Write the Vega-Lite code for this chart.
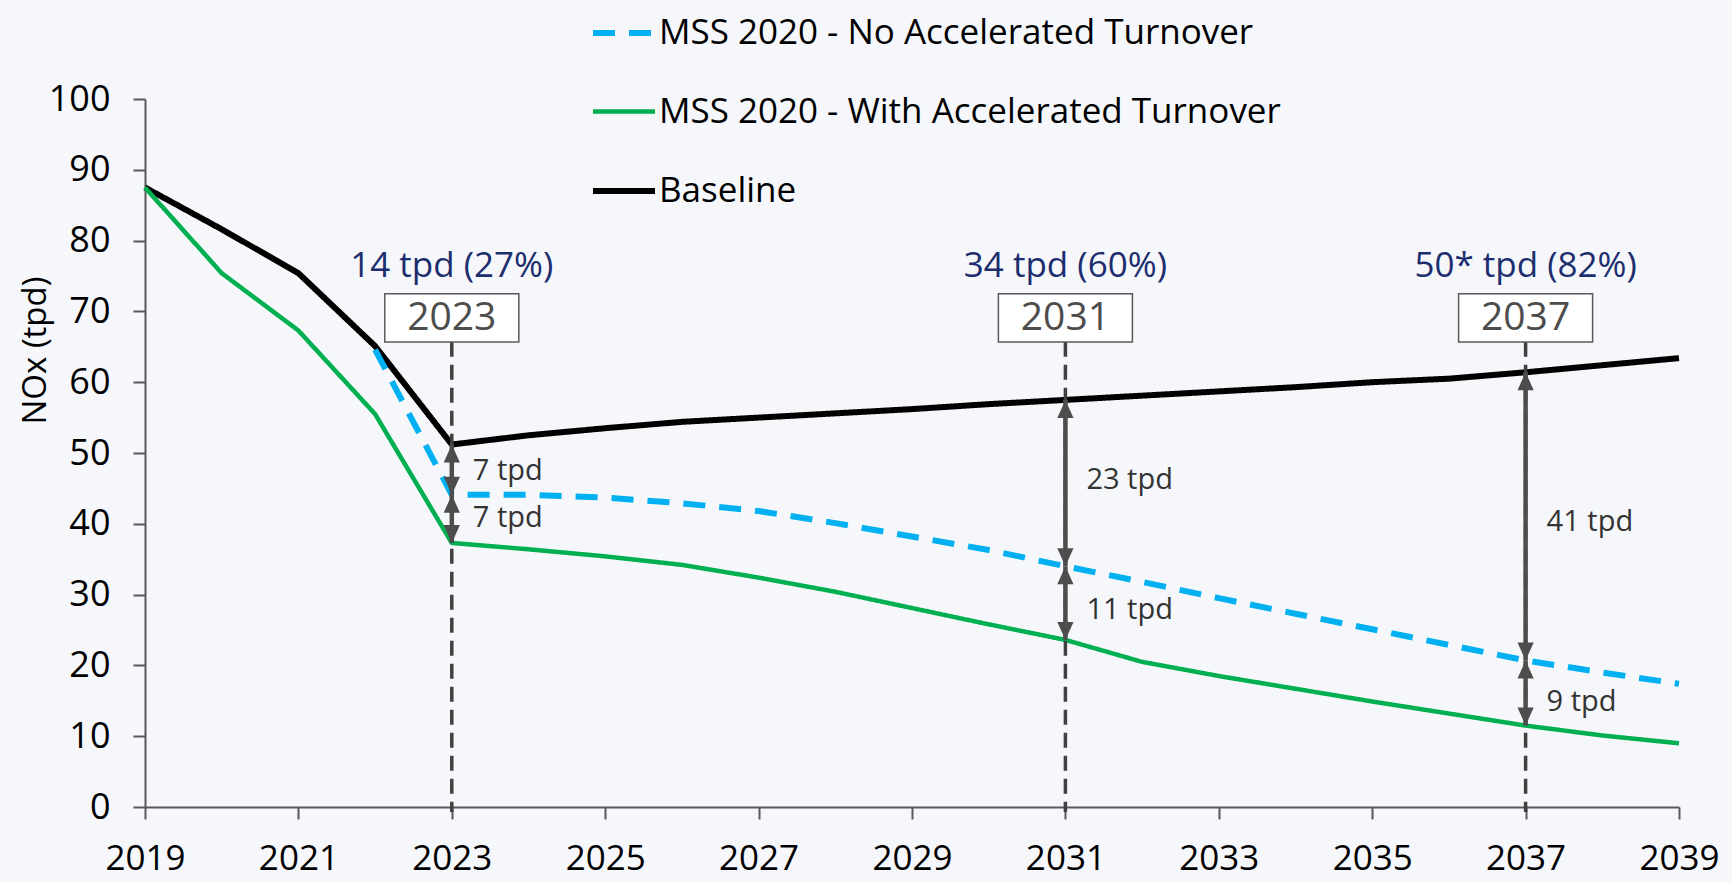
{
  "$schema": "https://vega.github.io/schema/vega-lite/v6.json",
  "width": 1534,
  "height": 708,
  "autosize": "none",
  "padding": {"left": 145, "top": 99, "right": 53, "bottom": 75},
  "background": "#f5f7fb",
  "config": {
    "view": {"stroke": null},
    "font": "Open Sans",
    "axis": {
      "grid": false,
      "domainColor": "#595959",
      "domainWidth": 2,
      "tickColor": "#595959",
      "tickWidth": 2,
      "tickSize": 12,
      "labelFont": "Open Sans",
      "labelFontSize": 35,
      "labelColor": "#000000",
      "labelFlush": false
    },
    "legend": {
      "labelFont": "Open Sans",
      "labelFontSize": 35,
      "labelColor": "#000000",
      "labelLimit": 0
    }
  },
  "datasets": {
    "series": [
      {"year": 2019, "series": "Baseline", "value": 87.5},
      {"year": 2020, "series": "Baseline", "value": 81.6},
      {"year": 2021, "series": "Baseline", "value": 75.4},
      {"year": 2022, "series": "Baseline", "value": 65.1},
      {"year": 2023, "series": "Baseline", "value": 51.2},
      {"year": 2024, "series": "Baseline", "value": 52.5},
      {"year": 2025, "series": "Baseline", "value": 53.5},
      {"year": 2026, "series": "Baseline", "value": 54.4},
      {"year": 2027, "series": "Baseline", "value": 55.0},
      {"year": 2028, "series": "Baseline", "value": 55.6},
      {"year": 2029, "series": "Baseline", "value": 56.2},
      {"year": 2030, "series": "Baseline", "value": 56.9},
      {"year": 2031, "series": "Baseline", "value": 57.5},
      {"year": 2032, "series": "Baseline", "value": 58.1},
      {"year": 2033, "series": "Baseline", "value": 58.7},
      {"year": 2034, "series": "Baseline", "value": 59.3},
      {"year": 2035, "series": "Baseline", "value": 60.0},
      {"year": 2036, "series": "Baseline", "value": 60.5},
      {"year": 2037, "series": "Baseline", "value": 61.4},
      {"year": 2038, "series": "Baseline", "value": 62.4},
      {"year": 2039, "series": "Baseline", "value": 63.4},
      {"year": 2019, "series": "MSS 2020 - With Accelerated Turnover", "value": 87.5},
      {"year": 2020, "series": "MSS 2020 - With Accelerated Turnover", "value": 75.4},
      {"year": 2021, "series": "MSS 2020 - With Accelerated Turnover", "value": 67.3},
      {"year": 2022, "series": "MSS 2020 - With Accelerated Turnover", "value": 55.5},
      {"year": 2023, "series": "MSS 2020 - With Accelerated Turnover", "value": 37.3},
      {"year": 2024, "series": "MSS 2020 - With Accelerated Turnover", "value": 36.4},
      {"year": 2025, "series": "MSS 2020 - With Accelerated Turnover", "value": 35.4},
      {"year": 2026, "series": "MSS 2020 - With Accelerated Turnover", "value": 34.2},
      {"year": 2027, "series": "MSS 2020 - With Accelerated Turnover", "value": 32.4},
      {"year": 2028, "series": "MSS 2020 - With Accelerated Turnover", "value": 30.4},
      {"year": 2029, "series": "MSS 2020 - With Accelerated Turnover", "value": 28.1},
      {"year": 2030, "series": "MSS 2020 - With Accelerated Turnover", "value": 25.8},
      {"year": 2031, "series": "MSS 2020 - With Accelerated Turnover", "value": 23.6},
      {"year": 2032, "series": "MSS 2020 - With Accelerated Turnover", "value": 20.5},
      {"year": 2033, "series": "MSS 2020 - With Accelerated Turnover", "value": 18.5},
      {"year": 2034, "series": "MSS 2020 - With Accelerated Turnover", "value": 16.7},
      {"year": 2035, "series": "MSS 2020 - With Accelerated Turnover", "value": 14.9},
      {"year": 2036, "series": "MSS 2020 - With Accelerated Turnover", "value": 13.2},
      {"year": 2037, "series": "MSS 2020 - With Accelerated Turnover", "value": 11.5},
      {"year": 2038, "series": "MSS 2020 - With Accelerated Turnover", "value": 10.1},
      {"year": 2039, "series": "MSS 2020 - With Accelerated Turnover", "value": 9.0},
      {"year": 2022, "series": "MSS 2020 - No Accelerated Turnover", "value": 64.6},
      {"year": 2023, "series": "MSS 2020 - No Accelerated Turnover", "value": 44.1},
      {"year": 2024, "series": "MSS 2020 - No Accelerated Turnover", "value": 44.1},
      {"year": 2025, "series": "MSS 2020 - No Accelerated Turnover", "value": 43.7},
      {"year": 2026, "series": "MSS 2020 - No Accelerated Turnover", "value": 42.9},
      {"year": 2027, "series": "MSS 2020 - No Accelerated Turnover", "value": 41.8},
      {"year": 2028, "series": "MSS 2020 - No Accelerated Turnover", "value": 40.1},
      {"year": 2029, "series": "MSS 2020 - No Accelerated Turnover", "value": 38.2},
      {"year": 2030, "series": "MSS 2020 - No Accelerated Turnover", "value": 36.3},
      {"year": 2031, "series": "MSS 2020 - No Accelerated Turnover", "value": 34.0},
      {"year": 2032, "series": "MSS 2020 - No Accelerated Turnover", "value": 31.8},
      {"year": 2033, "series": "MSS 2020 - No Accelerated Turnover", "value": 29.5},
      {"year": 2034, "series": "MSS 2020 - No Accelerated Turnover", "value": 27.3},
      {"year": 2035, "series": "MSS 2020 - No Accelerated Turnover", "value": 25.1},
      {"year": 2036, "series": "MSS 2020 - No Accelerated Turnover", "value": 22.9},
      {"year": 2037, "series": "MSS 2020 - No Accelerated Turnover", "value": 20.7},
      {"year": 2038, "series": "MSS 2020 - No Accelerated Turnover", "value": 19.0},
      {"year": 2039, "series": "MSS 2020 - No Accelerated Turnover", "value": 17.4}
    ],
    "marks": [
      {"year": 2023, "box": "2023", "label": "14 tpd (27%)"},
      {"year": 2031, "box": "2031", "label": "34 tpd (60%)"},
      {"year": 2037, "box": "2037", "label": "50* tpd (82%)"}
    ],
    "arrows": [
      {"year": 2023, "top": 51.2, "bottom": 44.1, "label": "7 tpd", "ly": 47.5},
      {"year": 2023, "top": 44.1, "bottom": 37.3, "label": "7 tpd", "ly": 40.8},
      {"year": 2031, "top": 57.5, "bottom": 34.0, "label": "23 tpd", "ly": 46.2},
      {"year": 2031, "top": 34.0, "bottom": 23.6, "label": "11 tpd", "ly": 27.8},
      {"year": 2037, "top": 61.4, "bottom": 20.7, "label": "41 tpd", "ly": 40.2},
      {"year": 2037, "top": 20.7, "bottom": 11.5, "label": "9 tpd", "ly": 14.8}
    ]
  },
  "layer": [
    {
      "data": {"name": "series"},
      "mark": {"type": "line", "strokeCap": "butt", "strokeJoin": "round"},
      "encoding": {
        "x": {
          "field": "year", "type": "quantitative",
          "scale": {"domain": [2019, 2039], "nice": false, "zero": false},
          "axis": {"values": [2019, 2021, 2023, 2025, 2027, 2029, 2031, 2033, 2035, 2037, 2039], "format": "d", "title": null, "labelPadding": 22, "labelOverlap": false}
        },
        "y": {
          "field": "value", "type": "quantitative",
          "scale": {"domain": [0, 100], "nice": false},
          "axis": {
            "values": [0, 10, 20, 30, 40, 50, 60, 70, 80, 90, 100],
            "labelFontSize": 36, "labelPadding": 23,
            "title": "NOx (tpd)", "titleFont": "Open Sans", "titleFontSize": 33, "titleFontWeight": "normal",
            "titleColor": "#000000", "titleAngle": 270, "titleX": -110, "titleY": 251,
            "titleAlign": "center", "titleBaseline": "middle"
          }
        },
        "color": {
          "field": "series", "type": "nominal",
          "scale": {
            "domain": ["MSS 2020 - No Accelerated Turnover", "MSS 2020 - With Accelerated Turnover", "Baseline"],
            "range": ["#00b0f0", "#00b050", "#000000"]
          },
          "legend": {
            "title": null, "orient": "none", "legendX": 445, "legendY": -100,
            "symbolType": "stroke", "symbolSize": 3844, "rowPadding": 27, "padding": 0, "labelOffset": 1,
            "direction": "vertical", "labelLimit": 0
          }
        },
        "strokeDash": {
          "field": "series", "type": "nominal",
          "scale": {
            "domain": ["MSS 2020 - No Accelerated Turnover", "MSS 2020 - With Accelerated Turnover", "Baseline"],
            "range": [[22, 14], [1, 0], [1, 0]]
          }
        },
        "strokeWidth": {
          "field": "series", "type": "nominal",
          "scale": {
            "type": "ordinal",
            "domain": ["MSS 2020 - No Accelerated Turnover", "MSS 2020 - With Accelerated Turnover", "Baseline"],
            "range": [6, 4.5, 6]
          }
        }
      }
    },
    {
      "data": {"name": "marks"},
      "mark": {"type": "rule", "color": "#404040", "strokeWidth": 3.5, "strokeDash": [15, 8]},
      "encoding": {
        "x": {"field": "year", "type": "quantitative"},
        "y": {"datum": 65.7},
        "y2": {"datum": -0.7}
      }
    },
    {
      "data": {"name": "arrows"},
      "mark": {"type": "rule", "color": "#4d4d4d", "strokeWidth": 4.5},
      "encoding": {
        "x": {"field": "year", "type": "quantitative"},
        "y": {"field": "top", "type": "quantitative"},
        "y2": {"field": "bottom"}
      }
    },
    {
      "data": {"name": "arrows"},
      "mark": {"type": "point", "shape": "M0,0L-0.45,1L0.45,1Z", "size": 1296, "filled": true, "color": "#4d4d4d", "opacity": 1},
      "encoding": {
        "x": {"field": "year", "type": "quantitative"},
        "y": {"field": "top", "type": "quantitative"}
      }
    },
    {
      "data": {"name": "arrows"},
      "mark": {"type": "point", "shape": "M0,0L-0.45,-1L0.45,-1Z", "size": 1296, "filled": true, "color": "#4d4d4d", "opacity": 1},
      "encoding": {
        "x": {"field": "year", "type": "quantitative"},
        "y": {"field": "bottom", "type": "quantitative"}
      }
    },
    {
      "data": {"name": "arrows"},
      "mark": {"type": "text", "align": "left", "baseline": "middle", "dx": 21, "font": "Open Sans", "fontSize": 29, "color": "#333333"},
      "encoding": {
        "x": {"field": "year", "type": "quantitative"},
        "y": {"field": "ly", "type": "quantitative"},
        "text": {"field": "label"}
      }
    },
    {
      "data": {"name": "marks"},
      "mark": {"type": "point", "shape": "M-1,-0.36H1V0.36H-1Z", "size": 17956, "filled": false, "fill": "#ffffff", "fillOpacity": 1, "stroke": "#595959", "strokeWidth": 1.5, "opacity": 1},
      "encoding": {
        "x": {"field": "year", "type": "quantitative"},
        "y": {"datum": 69.1}
      }
    },
    {
      "data": {"name": "marks"},
      "mark": {"type": "text", "align": "center", "baseline": "middle", "font": "Open Sans", "fontSize": 39, "color": "#4d4d4d"},
      "encoding": {
        "x": {"field": "year", "type": "quantitative"},
        "y": {"datum": 69.1},
        "text": {"field": "box"}
      }
    },
    {
      "data": {"name": "marks"},
      "mark": {"type": "text", "align": "center", "baseline": "middle", "font": "Open Sans", "fontSize": 35, "color": "#1c2e6e"},
      "encoding": {
        "x": {"field": "year", "type": "quantitative"},
        "y": {"datum": 76.4},
        "text": {"field": "label"}
      }
    }
  ]
}
